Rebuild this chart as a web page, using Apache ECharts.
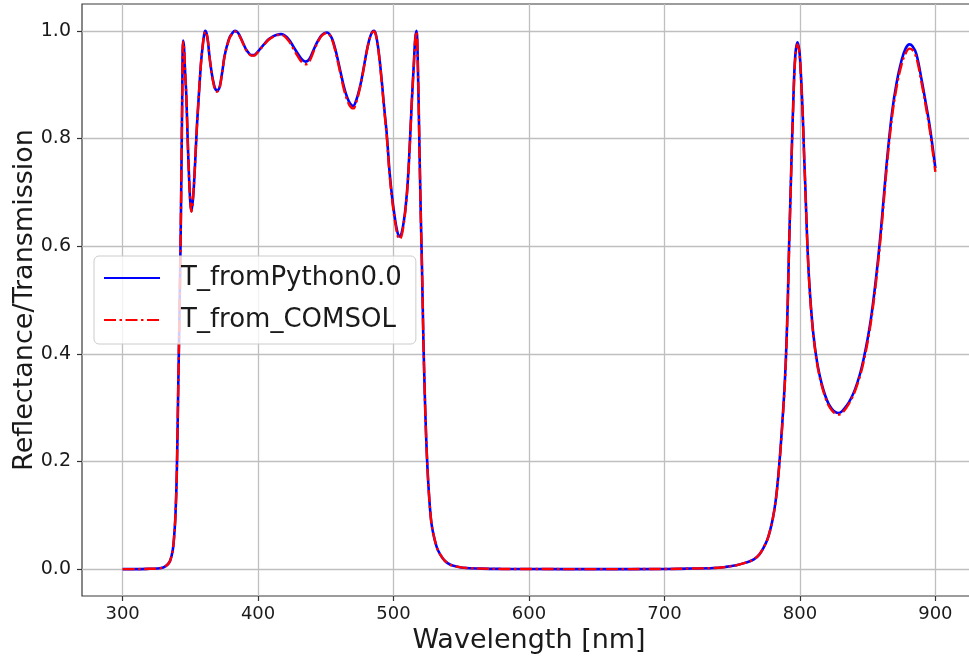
<!DOCTYPE html>
<html>
<head>
<meta charset="utf-8">
<script src="https://cdn.jsdelivr.net/npm/echarts@6/dist/echarts.min.js"></script>
<style>
  html, body { margin: 0; padding: 0; background: #ffffff; }
  #chart { width: 969px; height: 660px; }
</style>
</head>
<body>
<div id="chart"></div>
<script>
// Wavelength samples [nm]
const wavelength = [
  300, 310, 320, 325, 330, 333, 335, 337, 338, 339, 340, 341, 342, 343, 344, 344.6, 345.3, 346, 347, 348, 349, 350, 350.8,
  352, 353, 354, 355, 356, 357, 358, 359, 360, 361, 362, 363, 364, 365, 366, 367, 368, 369.5, 371, 372, 373, 374, 375,
  376, 377, 379, 381, 383, 385, 387, 389, 391, 393, 395, 397, 399, 401, 403, 405, 408, 411, 414, 417, 420, 423, 426,
  429, 432, 435, 437, 439, 441, 443, 445, 447, 449, 451, 453, 455, 457, 459, 461, 463, 465, 467, 469, 470.5, 472, 474,
  476, 478, 480, 482, 484, 485.5, 487, 489, 491, 493, 495, 497, 499, 501, 503, 504.5, 506, 507.5, 509, 510.5, 512,
  513.5, 515, 516, 517, 518, 519, 520, 521, 522, 523, 524, 525, 526, 527, 528, 529.5, 532, 534.5, 538, 542, 548, 554,
  565, 580, 600, 650,
  700, 720, 736, 745, 753, 760, 766, 770, 773, 776, 778, 780, 782, 784, 786, 788, 789, 790, 791, 792,
  793, 794, 795, 796, 797, 798.2, 799.6, 800.5, 801.4, 802.3, 803.1, 804, 805.1, 806.3, 807.5, 808.7, 810, 811.8, 813.6, 816,
  818.6, 821, 823.5, 826, 828.4, 831, 834.6, 837.5, 840.7, 844.4, 847, 850, 853, 856.7, 860, 864, 868, 871.5, 875, 878,
  880.8, 883, 886, 890, 893, 896, 900
];

// T_fromPython0.0 (blue, solid)
const tPython = [
  0, 0, 0.0005, 0.001, 0.003, 0.008, 0.015, 0.035, 0.06, 0.10, 0.18, 0.33, 0.48, 0.65, 0.88, 0.982, 0.97, 0.93, 0.88, 0.80, 0.73, 0.68, 0.665,
  0.69, 0.73, 0.78, 0.83, 0.87, 0.91, 0.945, 0.97, 0.99, 1.0, 0.995, 0.98, 0.955, 0.935, 0.918, 0.905, 0.895, 0.889, 0.892, 0.90, 0.915, 0.932, 0.95,
  0.962, 0.972, 0.988, 0.996, 1.0, 0.997, 0.988, 0.977, 0.966, 0.959, 0.955, 0.955, 0.959, 0.965, 0.971, 0.977, 0.985, 0.990, 0.993, 0.994, 0.991, 0.983, 0.971,
  0.959, 0.948, 0.943, 0.945, 0.953, 0.965, 0.976, 0.985, 0.992, 0.996, 0.997, 0.993, 0.983, 0.966, 0.945, 0.922, 0.900, 0.882, 0.869, 0.862, 0.861, 0.868, 0.884,
  0.905, 0.932, 0.960, 0.983, 0.997, 1.0, 0.993, 0.962, 0.915, 0.860, 0.808, 0.740, 0.690, 0.652, 0.625, 0.618, 0.625, 0.645, 0.675, 0.720, 0.790,
  0.870, 0.940, 0.985, 1.0, 0.93, 0.80, 0.67, 0.56, 0.43, 0.33, 0.25, 0.19, 0.145, 0.11, 0.085, 0.064, 0.04, 0.027, 0.015, 0.008, 0.004, 0.002,
  0.0008, 0.0003, 0.0001, 0,
  0.0002, 0.001, 0.002, 0.004, 0.007, 0.012, 0.018, 0.027, 0.039, 0.055, 0.072, 0.094, 0.125, 0.172, 0.235, 0.31, 0.355, 0.415, 0.495, 0.60,
  0.69, 0.78, 0.86, 0.93, 0.965, 0.979, 0.963, 0.93, 0.885, 0.83, 0.77, 0.71, 0.63, 0.56, 0.51, 0.47, 0.435, 0.399, 0.372, 0.345,
  0.323, 0.308, 0.298, 0.292, 0.290, 0.293, 0.304, 0.316, 0.334, 0.363, 0.39, 0.428, 0.475, 0.552, 0.635, 0.752, 0.848, 0.905, 0.945, 0.967,
  0.975, 0.972, 0.957, 0.907, 0.865, 0.82, 0.745
];

// T_from_COMSOL (red, dash-dot)
const tComsol = [
  0, 0, 0.0005, 0.001, 0.003, 0.008, 0.015, 0.035, 0.06, 0.10, 0.18, 0.33, 0.48, 0.65, 0.88, 0.980, 0.97, 0.93, 0.88, 0.80, 0.73, 0.68, 0.664,
  0.69, 0.73, 0.78, 0.83, 0.87, 0.91, 0.945, 0.97, 0.99, 0.999, 0.995, 0.98, 0.955, 0.934, 0.916, 0.903, 0.893, 0.887, 0.890, 0.899, 0.914, 0.931, 0.949,
  0.961, 0.971, 0.987, 0.995, 0.999, 0.996, 0.987, 0.976, 0.965, 0.958, 0.954, 0.954, 0.958, 0.964, 0.970, 0.976, 0.984, 0.989, 0.992, 0.993, 0.989, 0.980, 0.967,
  0.954, 0.943, 0.938, 0.940, 0.949, 0.962, 0.974, 0.984, 0.991, 0.995, 0.996, 0.992, 0.981, 0.963, 0.941, 0.918, 0.895, 0.877, 0.864, 0.857, 0.856, 0.864, 0.881,
  0.903, 0.930, 0.959, 0.982, 0.996, 0.999, 0.992, 0.960, 0.912, 0.856, 0.803, 0.735, 0.685, 0.647, 0.620, 0.613, 0.620, 0.641, 0.672, 0.717, 0.787,
  0.868, 0.938, 0.984, 0.999, 0.93, 0.80, 0.67, 0.56, 0.43, 0.33, 0.25, 0.19, 0.145, 0.11, 0.085, 0.064, 0.04, 0.027, 0.015, 0.008, 0.004, 0.002,
  0.0008, 0.0003, 0.0001, 0,
  0.0002, 0.001, 0.002, 0.004, 0.007, 0.012, 0.018, 0.027, 0.039, 0.055, 0.072, 0.094, 0.124, 0.170, 0.232, 0.306, 0.35, 0.41, 0.49, 0.595,
  0.685, 0.775, 0.855, 0.925, 0.96, 0.975, 0.96, 0.928, 0.883, 0.828, 0.768, 0.708, 0.628, 0.558, 0.507, 0.467, 0.432, 0.396, 0.369, 0.342,
  0.320, 0.305, 0.295, 0.289, 0.287, 0.290, 0.301, 0.313, 0.331, 0.359, 0.385, 0.422, 0.469, 0.545, 0.627, 0.744, 0.840, 0.897, 0.937, 0.958,
  0.967, 0.965, 0.950, 0.901, 0.859, 0.814, 0.738
];

const xTicks = [300, 400, 500, 600, 700, 800, 900];
const yTicks = [0.0, 0.2, 0.4, 0.6, 0.8, 1.0];

const seriesNames = ['T_fromPython0.0', 'T_from_COMSOL'];

const pairs = (xs, ys) => xs.map((x, i) => [x, ys[i]]);

const FONT = 'DejaVu Sans';
const TXT = '#1a1a1a';

const chart = echarts.init(document.getElementById('chart'), null, { renderer: 'canvas', width: 969, height: 660 });

chart.setOption({
  animation: false,
  backgroundColor: '#ffffff',
  grid: {
    left: 82, top: 4, right: -7, bottom: 64,
    show: true, borderColor: '#3a3a3a', borderWidth: 1.2, backgroundColor: 'transparent',
    containLabel: false, outerBoundsMode: 'none'
  },
  legend: {
    orient: 'vertical',
    left: 94, top: 256,
    padding: [7, 14, 9, 9],
    itemGap: 12,
    itemWidth: 56, itemHeight: 14,
    backgroundColor: 'rgba(255,255,255,0.8)',
    borderColor: '#cccccc', borderWidth: 1, borderRadius: 5,
    itemStyle: { opacity: 0 },
    textStyle: { fontFamily: FONT, fontSize: 26, color: TXT, lineHeight: 30, padding: [0, 0, 0, 16] },
    data: seriesNames
  },
  xAxis: {
    type: 'value', min: 270, max: 930,
    name: 'Wavelength [nm]', nameLocation: 'middle', nameGap: 31, nameMoveOverlap: false,
    nameTextStyle: { fontFamily: FONT, fontSize: 27, color: TXT },
    axisLine: { show: false, onZero: false },
    axisTick: { show: true, customValues: xTicks, length: 5, lineStyle: { color: '#333', width: 1.2 } },
    axisLabel: { customValues: xTicks, margin: 9, fontFamily: FONT, fontSize: 18, color: TXT,
      formatter: v => String(Math.round(v)) },
    splitLine: { show: true, lineStyle: { color: '#bfbfbf', width: 1.3 } }
  },
  yAxis: {
    type: 'value', min: -0.05, max: 1.05,
    name: 'Reflectance/Transmission', nameLocation: 'middle', nameGap: 44, nameRotate: 90, nameMoveOverlap: false,
    nameTextStyle: { fontFamily: FONT, fontSize: 27, color: TXT },
    axisLine: { show: false, onZero: false },
    axisTick: { show: true, customValues: yTicks, length: 5, lineStyle: { color: '#333', width: 1.2 } },
    axisLabel: { customValues: yTicks, margin: 11, fontFamily: FONT, fontSize: 19, color: TXT,
      formatter: v => v.toFixed(1) },
    splitLine: { show: true, lineStyle: { color: '#bfbfbf', width: 1.3 } }
  },
  series: [
    {
      name: seriesNames[0], type: 'line', data: pairs(wavelength, tPython),
      showSymbol: false, symbol: 'none', smooth: 0.35,
      lineStyle: { color: '#0000ff', width: 2.6 }, itemStyle: { color: '#0000ff' }, z: 2
    },
    {
      name: seriesNames[1], type: 'line', data: pairs(wavelength, tComsol),
      showSymbol: false, symbol: 'none', smooth: 0.35,
      lineStyle: { color: '#ff0000', width: 2.4, type: [12, 3.5, 2.5, 3.5] }, itemStyle: { color: '#ff0000' }, z: 3
    }
  ]
});
</script>
</body>
</html>
